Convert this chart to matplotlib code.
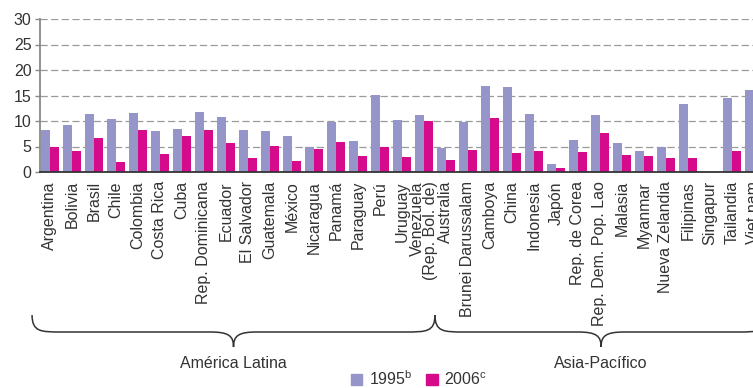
import numpy as np
import matplotlib
matplotlib.use("Agg")
import matplotlib.pyplot as plt
from matplotlib.path import Path
from matplotlib.patches import PathPatch, Patch
from matplotlib.transforms import blended_transform_factory

plt.rcParams["font.family"] = ["Liberation Sans", "DejaVu Sans"]
plt.rcParams["mathtext.fontset"] = "custom"
plt.rcParams["mathtext.rm"] = "Liberation Sans"

LAV = "#9595c9"
MAG = "#d60b8c"
TXT = "#333333"

paises = ["Argentina", "Bolivia", "Brasil", "Chile", "Colombia", "Costa Rica", "Cuba",
          "Rep. Dominicana", "Ecuador", "El Salvador", "Guatemala", "México", "Nicaragua",
          "Panamá", "Paraguay", "Perú", "Uruguay", "Venezuela\n(Rep. Bol. de)",
          "Australia", "Brunei Darussalam", "Camboya", "China", "Indonesia", "Japón",
          "Rep. de Corea", "Rep. Dem. Pop. Lao", "Malasia", "Myanmar", "Nueva Zelandia",
          "Filipinas", "Singapur", "Tailandia", "Viet nam"]
v1995 = [8.2, 9.2, 11.4, 10.4, 11.6, 8.0, 8.4, 11.8, 10.8, 8.2, 8.0, 7.1, 4.9,
         9.8, 6.1, 15.1, 10.2, 11.2,
         4.7, 9.8, 16.9, 16.7, 11.4, 1.6, 6.3, 11.2, 5.7, 4.1, 4.9, 13.3, np.nan, 14.5, 16.1]
v2006 = [4.9, 4.1, 6.7, 2.0, 8.2, 3.5, 7.1, 8.2, 5.7, 2.7, 5.1, 2.2, 4.5,
         5.9, 3.1, 4.9, 2.9, 10.0,
         2.4, 4.3, 10.6, 3.7, 4.1, 0.8, 3.9, 7.6, 3.3, 3.1, 2.7, 2.7, np.nan, 4.1, np.nan]
n_latam = 18

W, H = 753, 388
fig = plt.figure(figsize=(W / 100, H / 100), dpi=100)
# axes run past the right edge of the figure
ax = fig.add_axes([40 / W, (H - 172) / H, 747 / W, 153 / H])

x = np.arange(len(paises))
bw = 0.42
ax.bar(x - bw / 2, np.array(v1995, dtype=float), bw, color=LAV, zorder=3)
ax.bar(x + bw / 2, np.array(v2006, dtype=float), bw, color=MAG, zorder=3)

ax.set_xlim(-0.45, 33.5)
ax.set_ylim(0, 30)
ax.set_yticks(range(0, 31, 5))
ax.yaxis.grid(True, color="#9a9a9a", linewidth=0.9, linestyle=(0, (5.8, 2.7)), zorder=0)
ax.set_axisbelow(True)

for s in ("top", "right"):
    ax.spines[s].set_visible(False)
ax.spines["left"].set_color("#888888")
ax.spines["left"].set_linewidth(1.3)
ax.spines["bottom"].set_color("#333333")
ax.spines["bottom"].set_linewidth(1.3)
ax.spines["bottom"].set_zorder(4)

ax.tick_params(axis="y", length=3.5, width=1, color="#888888", pad=2.5,
               labelsize=11.5, labelcolor=TXT)
ax.tick_params(axis="x", length=0, pad=6.5)
ax.set_xticks(x)
ax.set_xticklabels(paises, rotation=90, fontsize=11.5, color=TXT,
                   va="top", ha="center", multialignment="right", linespacing=0.85)

# braces under each region
tr = blended_transform_factory(ax.transData, fig.transFigure)


def fy(py):
    return (H - py) / H


def brace(x0, x1, y_top=315, y_mid=332, y_tip=347, r=1.35, rt=1.05):
    xm = (x0 + x1) / 2
    verts = [
        (x0, fy(y_top)),
        (x0, fy(y_mid)), (x0 + r * 0.3, fy(y_mid)), (x0 + r, fy(y_mid)),
        (xm - rt, fy(y_mid)),
        (xm - rt * 0.2, fy(y_mid)), (xm, fy(y_mid + 4)), (xm, fy(y_tip)),
        (xm, fy(y_mid + 4)), (xm + rt * 0.2, fy(y_mid)), (xm + rt, fy(y_mid)),
        (x1 - r, fy(y_mid)),
        (x1 - r * 0.3, fy(y_mid)), (x1, fy(y_mid)), (x1, fy(y_top)),
    ]
    codes = [Path.MOVETO,
             Path.CURVE4, Path.CURVE4, Path.CURVE4,
             Path.LINETO,
             Path.CURVE4, Path.CURVE4, Path.CURVE4,
             Path.CURVE4, Path.CURVE4, Path.CURVE4,
             Path.LINETO,
             Path.CURVE4, Path.CURVE4, Path.CURVE4]
    patch = PathPatch(Path(verts, codes), transform=tr, fill=False,
                      edgecolor="#333333", linewidth=1.1, clip_on=False)
    fig.add_artist(patch)
    return xm


xa = brace(-0.81, n_latam - 0.5)
xb = brace(n_latam - 0.5, 32.6)
ax.text(xa, fy(363), "América Latina", transform=tr, ha="center", va="center",
        fontsize=11.5, color=TXT)
ax.text(xb, fy(363), "Asia-Pacífico", transform=tr, ha="center", va="center",
        fontsize=11.5, color=TXT)

handles = [Patch(color=LAV), Patch(color=MAG)]
fig.legend(handles, ["1995$^{\\mathrm{b}}$", "2006$^{\\mathrm{c}}$"],
           loc="center left", bbox_to_anchor=(351 / W, fy(379)), ncol=2,
           frameon=False, fontsize=11.5, labelcolor=TXT, borderpad=0,
           borderaxespad=0, handlelength=0.7, handleheight=0.7,
           handletextpad=0.4, columnspacing=0.9)

fig.savefig("out.png", dpi=100)
